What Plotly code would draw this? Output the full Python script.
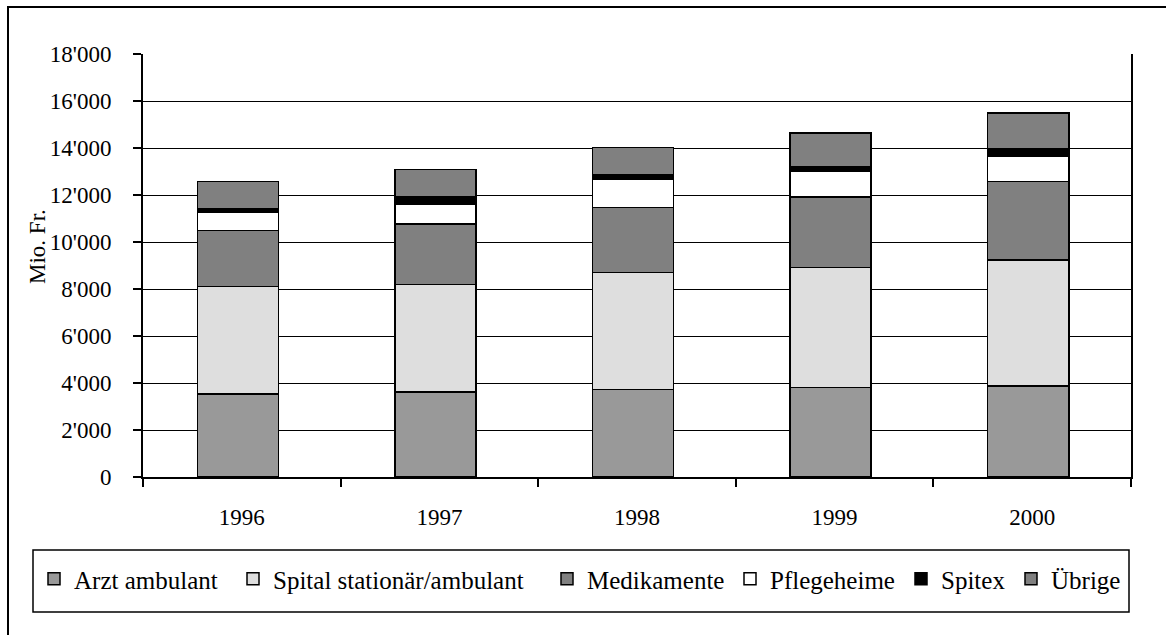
import plotly.graph_objects as go

years = ["1996", "1997", "1998", "1999", "2000"]
arzt = [3530, 3610, 3720, 3800, 3880]
spital = [4580, 4580, 4990, 5110, 5360]
medikamente = [2390, 2570, 2750, 3000, 3340]
pflegeheime = [750, 830, 1210, 1080, 1080]
spitex = [150, 320, 180, 200, 310]
uebrige = [1170, 1180, 1170, 1450, 1510]

series = [
    ("Arzt ambulant", arzt, "#999999"),
    ("Spital stationär/ambulant", spital, "#DEDEDE"),
    ("Medikamente", medikamente, "#808080"),
    ("Pflegeheime", pflegeheime, "#FFFFFF"),
    ("Spitex", spitex, "#000000"),
    ("Übrige", uebrige, "#808080"),
]
# left edge (px) of each legend swatch
legend_left = [48, 247, 561, 744, 915, 1025]

W, H = 1166, 635
L, R, T, B = 143, 1166 - 1131, 54, 635 - 477
pw, ph = W - L - R, H - T - B


def px(x):
    return (x - L) / pw


def py(y):
    return (H - B - y) / ph


FONT = "Liberation Serif, Times New Roman, serif"

fig = go.Figure()
legends = {}
for i, (name, vals, color) in enumerate(series):
    key = "legend" if i == 0 else f"legend{i + 1}"
    fig.add_trace(go.Bar(
        x=years, y=vals, name=name, legend=key,
        width=0.41, offset=-0.225,
        marker=dict(color=color, line=dict(color="black", width=1.5)),
    ))
    legends[key] = dict(
        orientation="h", x=px(legend_left[i] - 14), y=py(579),
        xanchor="left", yanchor="middle",
        font=dict(family=FONT, size=25, color="black"),
        bgcolor="rgba(0,0,0,0)", borderwidth=0, itemclick=False,
    )

fig.update_layout(
    width=W, height=H,
    margin=dict(l=L, r=R, t=T, b=B, autoexpand=False),
    barmode="stack",
    paper_bgcolor="white", plot_bgcolor="white",
    separators=".'",
    font=dict(family=FONT, size=23, color="black"),
    showlegend=True,
    xaxis=dict(
        type="category", showgrid=False, showline=True, linecolor="black", linewidth=2,
        ticks="outside", tickson="boundaries", ticklen=8, tickwidth=1.5, tickcolor="black",
        ticklabelstandoff=18, tickfont=dict(size=23),
    ),
    yaxis=dict(
        range=[0, 18000], tickvals=list(range(0, 18001, 2000)), tickformat=",d",
        showgrid=True, gridcolor="black", gridwidth=1,
        showline=True, linecolor="black", linewidth=2, mirror=True,
        ticks="outside", ticklen=8, tickwidth=1.5, tickcolor="black",
        ticklabelstandoff=17, tickfont=dict(size=23), zeroline=False,
    ),
    shapes=[
        dict(type="rect", xref="paper", yref="paper",
             x0=px(8), x1=px(W + 20), y0=py(H + 20), y1=py(7),
             line=dict(color="black", width=2), layer="below"),
        dict(type="rect", xref="paper", yref="paper",
             x0=px(33), x1=px(1129), y0=py(612), y1=py(550),
             line=dict(color="black", width=1.5)),
    ],
    annotations=[
        dict(text="Mio. Fr.", xref="paper", yref="paper", x=px(37), y=py(247),
             textangle=-90, showarrow=False, xanchor="center", yanchor="middle",
             font=dict(family=FONT, size=23, color="black")),
    ],
    **legends,
)

fig.write_html("out.html", config={"displayModeBar": False},
               post_script="document.body.style.margin='0';")
